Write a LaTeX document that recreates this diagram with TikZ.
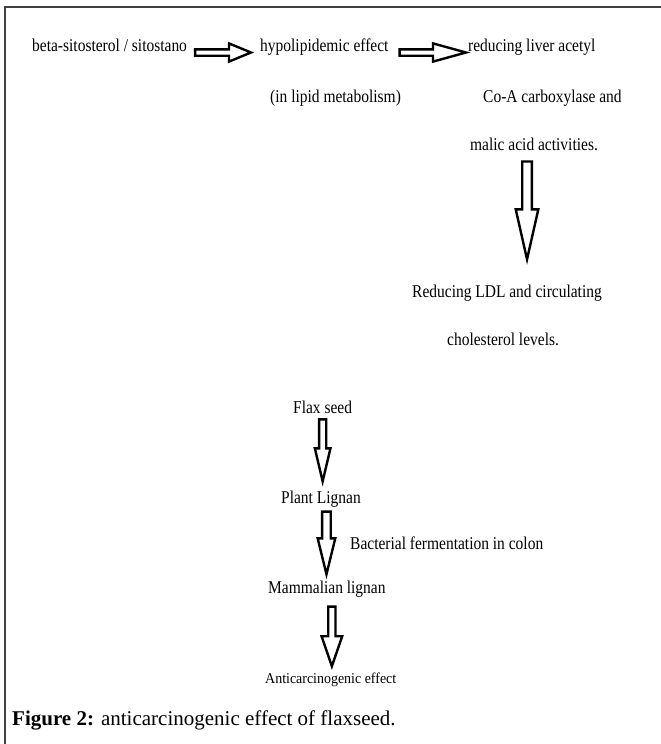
\documentclass[tikz,border=0pt]{standalone}
\usepackage{fontspec}
\setmainfont{Liberation Serif}
\newfontfamily\narrowfont{Liberation Serif}[FakeStretch=0.86]
\newfontfamily\smallfont{Liberation Serif}[FakeStretch=0.93]
\usetikzlibrary{calc}
\tikzset{
  txt/.style={font=\narrowfont\fontsize{18}{20}\selectfont, inner sep=0pt, anchor=base west},
  small/.style={font=\smallfont\fontsize{15}{17}\selectfont, inner sep=0pt, anchor=base west},
  blockline/.style={draw=black, fill=white, line width=2.4pt, miter limit=20},
  hblock/.style n args={2}{blockline, to path={let \p1=(\tikztostart), \p2=(\tikztotarget) in
    (\x1,{\y1+3.2pt}) -- ({\x2-#2},{\y1+3.2pt}) -- ({\x2-#2},{\y1+#1}) -- (\x2,\y1)
    -- ({\x2-#2},{\y1-#1}) -- ({\x2-#2},{\y1-3.2pt}) -- (\x1,{\y1-3.2pt}) -- cycle}},
  vblock/.style n args={3}{blockline, to path={let \p1=(\tikztostart), \p2=(\tikztotarget) in
    ({\x1-#1},\y1) -- ({\x1-#1},{\y2+#3}) -- ({\x1-#2},{\y2+#3}) -- (\x1,\y2)
    -- ({\x1+#2},{\y2+#3}) -- ({\x1+#1},{\y2+#3}) -- ({\x1+#1},\y1) -- cycle}},
}
\begin{document}
\begin{tikzpicture}[x=1pt, y=-1pt]
\useasboundingbox (0,0) rectangle (661,744);
\draw[line width=1.5pt, black!75] (5,744) -- (5,7) -- (661,7);

\node[txt] (beta) at (32,51) {beta-sitosterol / sitostano};
\node[txt] (hypo) at (260,51) {hypolipidemic effect};
\node[txt] (red) at (468,51) {reducing liver acetyl};
\node[txt] (lipid) at (270,102) {(in lipid metabolism)};
\node[txt] (coa) at (483,102) {Co-A carboxylase and};
\node[txt] (malic) at (470,150) {malic acid activities.};
\node[txt] (ldl) at (412,297) {Reducing LDL and circulating};
\node[txt] (chol) at (447,345) {cholesterol levels.};

\node[txt] (flax) at (293,413) {Flax seed};
\node[txt] (plant) at (281,503) {Plant Lignan};
\node[txt] (bact) at (350,549) {Bacterial fermentation in colon};
\node[txt] (mamm) at (268,593) {Mammalian lignan};
\node[small] (anti) at (265,683) {Anticarcinogenic effect};

\node[font=\fontsize{21}{24}\selectfont, inner sep=0pt, anchor=base west] (cap) at (12,725)
  {\textbf{Figure 2:} anticarcinogenic effect of flaxseed.};

\draw[hblock={9.1pt}{22pt}] ([xshift=8pt,yshift=-1.5pt]beta.base east) to ([xshift=-9pt]hypo.base west);
\draw[hblock={9.1pt}{33pt}] ([xshift=11pt,yshift=-1.5pt]hypo.base east) to ([xshift=-2pt]red.base west);

\draw[vblock={4.8pt}{11.3pt}{50pt}] ([xshift=-7pt,yshift=-11pt]malic.south) to ([yshift=25pt]ldl.north);
\draw[vblock={3.6pt}{7.8pt}{33pt}] ([yshift=-6pt]flax.south) to ([yshift=9pt]plant.north);
\draw[vblock={4.3pt}{8.8pt}{36pt}] ([xshift=5.5pt,yshift=-4.6pt]plant.south) to ([yshift=6pt]mamm.north);
\draw[vblock={3.6pt}{10.3pt}{30pt}] ([xshift=5pt,yshift=-9.6pt]mamm.south) to ([yshift=6pt]anti.north);
\end{tikzpicture}
\end{document}
